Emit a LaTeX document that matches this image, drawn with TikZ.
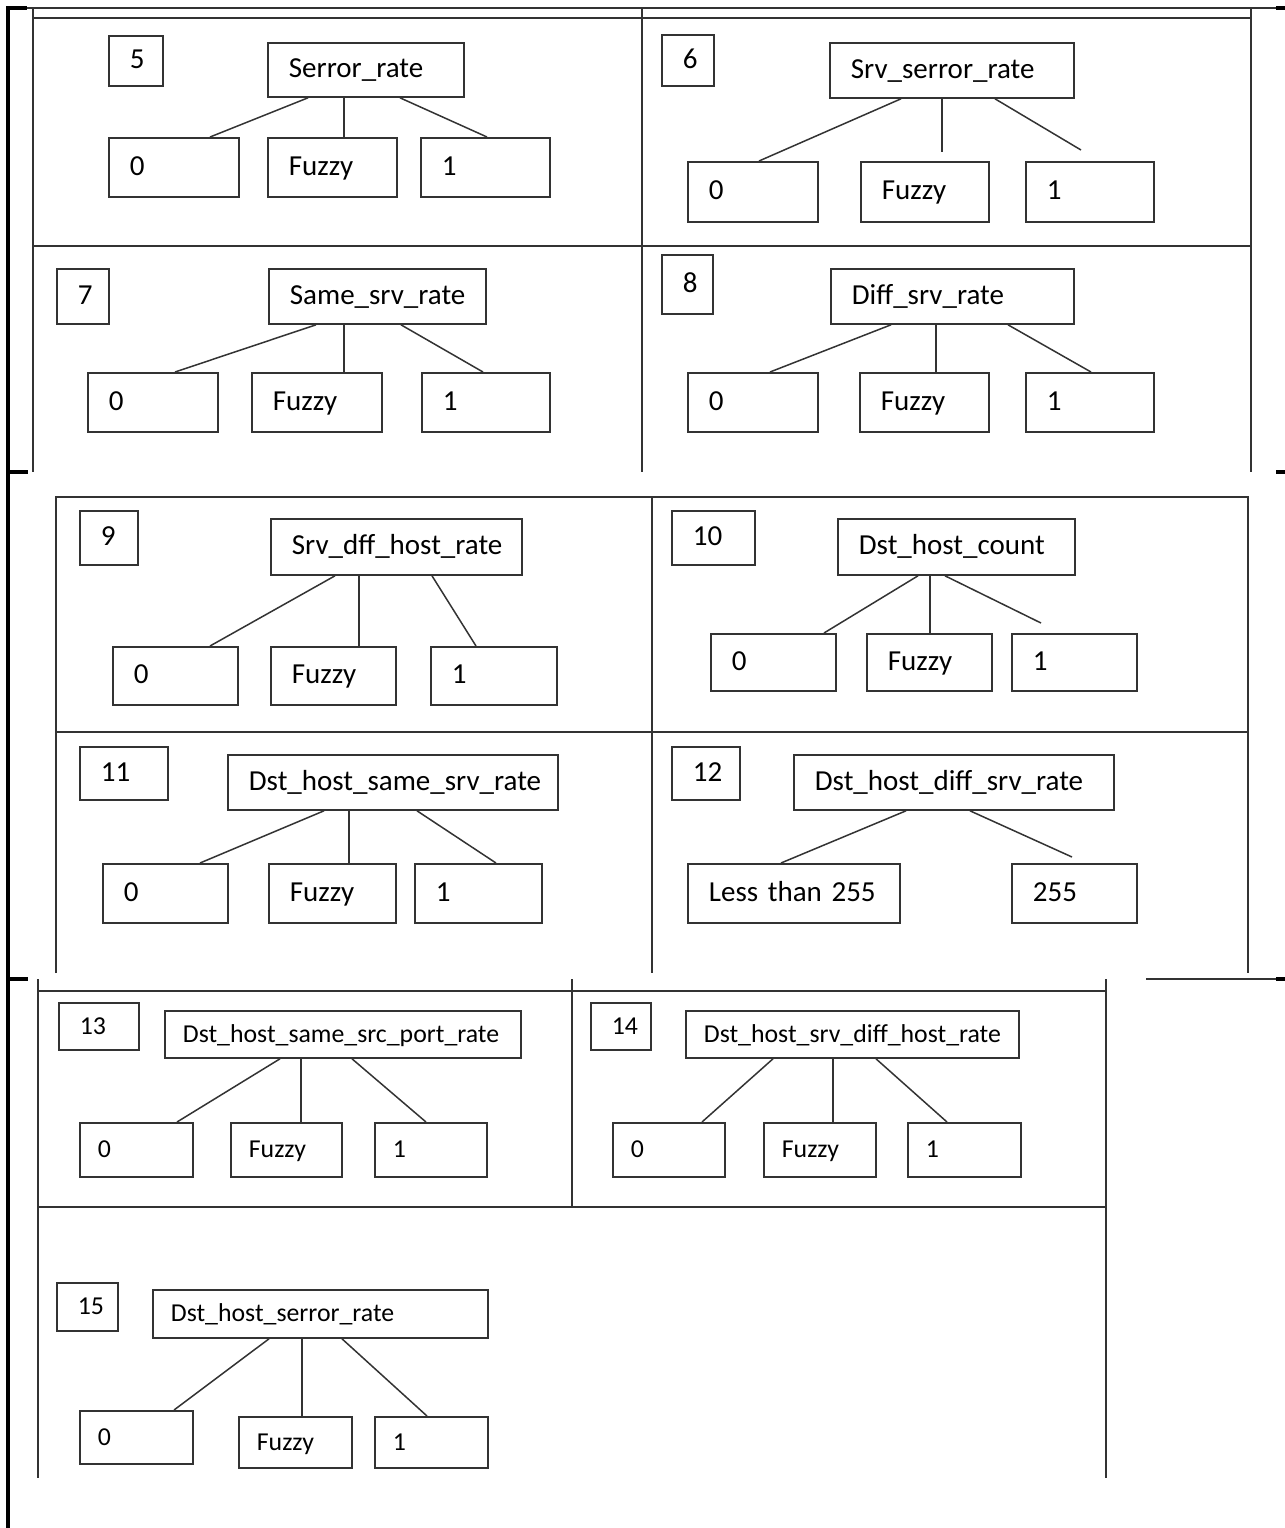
\documentclass[tikz,border=0pt]{standalone}
\usepackage{fontspec}
\setmainfont{Carlito}

\begin{document}
\begin{tikzpicture}[
  x=0.5pt, y=-0.5pt,
  bx/.style 2 args={draw=black!80, line width=0.9pt, anchor=north west,
                    font=\fontsize{14.5}{17}\selectfont, inner xsep=10.5pt, inner ysep=0pt,
                    minimum width=#1*0.5pt, minimum height=#2*0.5pt,
                    text width=#1*0.5pt-21pt, align=left, text height=10pt, text depth=2pt},
  sml/.style={font=\fontsize{12.9}{15}\selectfont},
  sbx/.style 2 args={bx={#1}{#2}, sml, inner xsep=9pt, text width=#1*0.5pt-18pt},
  link/.style={draw=black!80, line width=0.75pt},
  rule/.style={draw=black!80, line width=0.9pt},
  frame/.style={draw=black, line width=1.6pt}
]
  \useasboundingbox (0,0) rectangle (1285,1528);

  % page frame
  \draw[frame] (8,1528) -- (8,8) -- (27,8);
  \draw[rule]  (27,8) -- (1276,8);
  \draw[frame] (1276,8) -- (1285,8);
  \draw[frame] (8,472) -- (28,472);
  \draw[frame] (1276,472) -- (1285,472);
  \draw[frame] (8,979) -- (28,979);
  \draw[rule]  (1146,979) -- (1276,979);
  \draw[frame] (1276,979) -- (1285,979);

  % table lines
  \draw[rule] (33,8) -- (33,472) (642,8) -- (642,472) (1251,8) -- (1251,472)
              (33,18) -- (1251,18) (33,246) -- (1251,246);
  \draw[rule] (56,973) -- (56,497) -- (1248,497) -- (1248,973)
              (652,497) -- (652,973) (56,732) -- (1248,732);
  \draw[rule] (38,979) -- (38,1478) (572,979) -- (572,1207) (1106,979) -- (1106,1478)
              (38,991) -- (1106,991) (38,1207) -- (1106,1207);

  % 5
  \node[bx={54}{50}]   (num5)   at (108,35)  {5};
  \node[bx={196}{54}]  (root5)  at (267,42)  {Serror\_rate};
  \node[bx={130}{59}]  (zero5)  at (108,137) {0};
  \node[bx={129}{59}]  (fuzzy5) at (267,137) {Fuzzy};
  \node[bx={129}{59}]  (one5)   at (420,137) {1};
  \draw[link] ([xshift=20.5pt]root5.south west) -- ([xshift=51pt]zero5.north west);
  \draw[link] ([xshift=38.5pt]root5.south west) -- ([xshift=38.5pt]fuzzy5.north west);
  \draw[link] ([xshift=66.5pt]root5.south west) -- ([xshift=33.5pt]one5.north west);

  % 6
  \node[bx={52}{51}]   (num6)   at (661,34)   {6};
  \node[bx={244}{55}]  (root6)  at (829,42)   {Srv\_serror\_rate};
  \node[bx={130}{60}]  (zero6)  at (687,161)  {0};
  \node[bx={128}{60}]  (fuzzy6) at (860,161)  {Fuzzy};
  \node[bx={128}{60}]  (one6)   at (1025,161) {1};
  \draw[link] ([xshift=36pt]root6.south west) -- ([xshift=36pt]zero6.north west);
  \draw[link] ([xshift=56.5pt]root6.south west) -- ([xshift=41pt,yshift=4.5pt]fuzzy6.north west);
  \draw[link] ([xshift=83pt]root6.south west) -- ([xshift=28pt,yshift=5.5pt]one6.north west);

  % 7
  \node[bx={52}{55}]   (num7)   at (56,268)  {7};
  \node[bx={217}{55}]  (root7)  at (268,268) {Same\_srv\_rate};
  \node[bx={130}{59}]  (zero7)  at (87,372)  {0};
  \node[bx={130}{59}]  (fuzzy7) at (251,372) {Fuzzy};
  \node[bx={128}{59}]  (one7)   at (421,372) {1};
  \draw[link] ([xshift=24pt]root7.south west) -- ([xshift=44pt]zero7.north west);
  \draw[link] ([xshift=38pt]root7.south west) -- ([xshift=46.5pt]fuzzy7.north west);
  \draw[link] ([xshift=66.5pt]root7.south west) -- ([xshift=31pt]one7.north west);

  % 8
  \node[bx={51}{59}]   (num8)   at (661,254)  {8};
  \node[bx={243}{55}]  (root8)  at (830,268)  {Diff\_srv\_rate};
  \node[bx={130}{59}]  (zero8)  at (687,372)  {0};
  \node[bx={129}{59}]  (fuzzy8) at (859,372)  {Fuzzy};
  \node[bx={128}{59}]  (one8)   at (1025,372) {1};
  \draw[link] ([xshift=30.5pt]root8.south west) -- ([xshift=41.5pt]zero8.north west);
  \draw[link] ([xshift=53pt]root8.south west) -- ([xshift=38.5pt]fuzzy8.north west);
  \draw[link] ([xshift=89pt]root8.south west) -- ([xshift=33pt]one8.north west);

  % 9
  \node[bx={58}{54}]   (num9)   at (79,510)  {9};
  \node[bx={251}{56}]  (root9)  at (270,518) {Srv\_dff\_host\_rate};
  \node[bx={125}{58}]  (zero9)  at (112,646) {0};
  \node[bx={125}{58}]  (fuzzy9) at (270,646) {Fuzzy};
  \node[bx={126}{58}]  (one9)   at (430,646) {1};
  \draw[link] ([xshift=32.5pt]root9.south west) -- ([xshift=49pt]zero9.north west);
  \draw[link] ([xshift=44.5pt]root9.south west) -- ([xshift=44.5pt]fuzzy9.north west);
  \draw[link] ([xshift=81pt]root9.south west) -- ([xshift=23pt]one9.north west);

  % 10
  \node[bx={83}{54}]   (num10)   at (671,510)  {10};
  \node[bx={237}{56}]  (root10)  at (837,518)  {Dst\_host\_count};
  \node[bx={125}{57}]  (zero10)  at (710,633)  {0};
  \node[bx={125}{57}]  (fuzzy10) at (866,633)  {Fuzzy};
  \node[bx={125}{57}]  (one10)   at (1011,633) {1};
  \draw[link] ([xshift=40.5pt]root10.south west) -- ([xshift=57pt]zero10.north west);
  \draw[link] ([xshift=46.5pt]root10.south west) -- ([xshift=32pt]fuzzy10.north west);
  \draw[link] ([xshift=54pt]root10.south west) -- ([xshift=15pt,yshift=5pt]one10.north west);

  % 11
  \node[bx={88}{53}]   (num11)   at (79,746)  {11};
  \node[bx={330}{55}]  (root11)  at (227,754) {Dst\_host\_same\_srv\_rate};
  \node[bx={125}{59}]  (zero11)  at (102,863) {0};
  \node[bx={127}{59}]  (fuzzy11) at (268,863) {Fuzzy};
  \node[bx={127}{59}]  (one11)   at (414,863) {1};
  \draw[link] ([xshift=48.5pt]root11.south west) -- ([xshift=49pt]zero11.north west);
  \draw[link] ([xshift=61pt]root11.south west) -- ([xshift=40.5pt]fuzzy11.north west);
  \draw[link] ([xshift=95pt]root11.south west) -- ([xshift=41pt]one11.north west);

  % 12
  \node[bx={68}{53}]   (num12)  at (671,746)  {12};
  \node[bx={320}{55}]  (root12) at (793,754)  {Dst\_host\_diff\_srv\_rate};
  \node[bx={212}{59}]  (less12) at (687,863)  {Less than 255};
  \node[bx={125}{59}]  (full12) at (1011,863) {255};
  \draw[link] ([xshift=56.5pt]root12.south west) -- ([xshift=47pt]less12.north west);
  \draw[link] ([xshift=88.5pt]root12.south west) -- ([xshift=30.5pt,yshift=3pt]full12.north west);

  % 13
  \node[bx={80}{47},sml] (num13)   at (58,1002)  {13};
  \node[sbx={356}{47}]   (root13)  at (164,1010) {Dst\_host\_same\_src\_port\_rate};
  \node[sbx={113}{54}]   (zero13)  at (79,1122)  {0};
  \node[sbx={111}{54}]   (fuzzy13) at (230,1122) {Fuzzy};
  \node[sbx={112}{54}]   (one13)   at (374,1122) {1};
  \draw[link] ([xshift=58pt]root13.south west) -- ([xshift=49pt]zero13.north west);
  \draw[link] ([xshift=68.5pt]root13.south west) -- ([xshift=35.5pt]fuzzy13.north west);
  \draw[link] ([xshift=94pt]root13.south west) -- ([xshift=26pt]one13.north west);

  % 14
  \node[bx={60}{47},sml] (num14)   at (590,1002) {14};
  \node[sbx={333}{47}]   (root14)  at (685,1010) {Dst\_host\_srv\_diff\_host\_rate};
  \node[sbx={112}{54}]   (zero14)  at (612,1122) {0};
  \node[sbx={112}{54}]   (fuzzy14) at (763,1122) {Fuzzy};
  \node[sbx={113}{54}]   (one14)   at (907,1122) {1};
  \draw[link] ([xshift=44pt]root14.south west) -- ([xshift=45pt]zero14.north west);
  \draw[link] ([xshift=74pt]root14.south west) -- ([xshift=35pt]fuzzy14.north west);
  \draw[link] ([xshift=95.5pt]root14.south west) -- ([xshift=20pt]one14.north west);

  % 15
  \node[bx={61}{48},sml] (num15)   at (56,1282)  {15};
  \node[sbx={335}{48}]   (root15)  at (152,1289) {Dst\_host\_serror\_rate};
  \node[sbx={113}{53}]   (zero15)  at (79,1410)  {0};
  \node[sbx={113}{51}]   (fuzzy15) at (238,1416) {Fuzzy};
  \node[sbx={113}{51}]   (one15)   at (374,1416) {1};
  \draw[link] ([xshift=58.5pt]root15.south west) -- ([xshift=47.5pt]zero15.north west);
  \draw[link] ([xshift=75pt]root15.south west) -- ([xshift=32pt]fuzzy15.north west);
  \draw[link] ([xshift=95pt]root15.south west) -- ([xshift=26.5pt]one15.north west);
\end{tikzpicture}
\end{document}
